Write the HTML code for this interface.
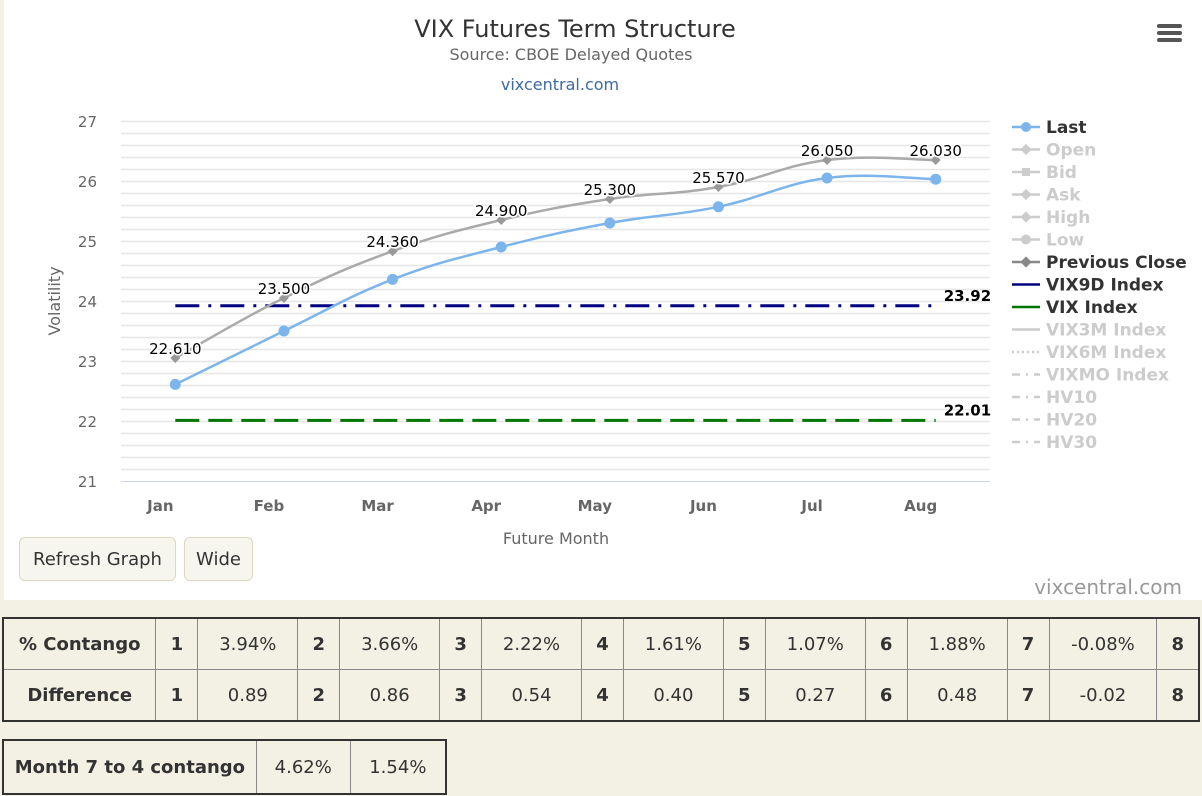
<!DOCTYPE html>
<html><head><meta charset="utf-8">
<style>
body{margin:0;width:1202px;height:796px;background:#f3f1e4;font-family:"DejaVu Sans","Liberation Sans",sans-serif;position:relative;overflow:hidden}
#chartbox{position:absolute;left:4px;top:0;width:1198px;height:600px;background:#fff}
svg text{font-family:"DejaVu Sans","Liberation Sans",sans-serif}
.btn{position:absolute;top:537px;height:44px;border:1px solid #ddd7bd;border-radius:6px;background:#f7f6ee;font-size:18px;color:#333;line-height:44px;text-align:center;box-sizing:border-box}
table{position:absolute;border-collapse:collapse;border:2px solid #333;font-size:18px;color:#333}
td{border:1px solid #888;text-align:center;padding:0;height:50px}
td.b{font-weight:bold}
</style></head><body>
<div id="chartbox">
<svg id="chart" width="1198" height="600"></svg>
</div>
<div class="btn" style="left:19px;width:157px">Refresh Graph</div>
<div class="btn" style="left:184px;width:69px">Wide</div>

<table style="left:2px;top:617px;width:1198px">
<colgroup><col style="width:153px"><col style="width:42px"><col style="width:100px"><col style="width:42px"><col style="width:100px"><col style="width:42px"><col style="width:100px"><col style="width:42px"><col style="width:100px"><col style="width:42px"><col style="width:100px"><col style="width:42px"><col style="width:100px"><col style="width:42px"><col style="width:108px"><col style="width:42px"></colgroup>
<tr><td class="b">% Contango</td><td class="b">1</td><td>3.94%</td><td class="b">2</td><td>3.66%</td><td class="b">3</td><td>2.22%</td><td class="b">4</td><td>1.61%</td><td class="b">5</td><td>1.07%</td><td class="b">6</td><td>1.88%</td><td class="b">7</td><td>-0.08%</td><td class="b">8</td></tr>
<tr><td class="b">Difference</td><td class="b">1</td><td>0.89</td><td class="b">2</td><td>0.86</td><td class="b">3</td><td>0.54</td><td class="b">4</td><td>0.40</td><td class="b">5</td><td>0.27</td><td class="b">6</td><td>0.48</td><td class="b">7</td><td>-0.02</td><td class="b">8</td></tr>
</table>
<table style="left:2px;top:739px;width:445px">
<colgroup><col style="width:254px"><col style="width:94px"><col style="width:96px"></colgroup>
<tr><td class="b" style="height:52px">Month 7 to 4 contango</td><td>4.62%</td><td>1.54%</td></tr>
</table>

<script>
const categories=["Jan","Feb","Mar","Apr","May","Jun","Jul","Aug"];
const lastValues=[22.61,23.5,24.36,24.9,25.3,25.57,26.05,26.03];
const prevClose=[23.05,24.05,24.83,25.35,25.70,25.90,26.35,26.35];
const vix9d=23.92;
const vix=22.01;
const yTicks=[21,22,23,24,25,26,27];
const legendItems=["Last","Open","Bid","Ask","High","Low","Previous Close","VIX9D Index","VIX Index","VIX3M Index","VIX6M Index","VIXMO Index","HV10","HV20","HV30"];
const legendActive=[true,false,false,false,false,false,true,true,true,false,false,false,false,false,false];

const NS="http://www.w3.org/2000/svg";
const svg=document.getElementById('chart');
const OX=4; // chartbox offset
const PL=121-OX,PR=990-OX,PT=121,PB=481,YMIN=21,YMAX=27;
const band=(PR-PL)/categories.length;
function x(i){return PL+band*(i+0.5);}
function y(v){return PB-(v-YMIN)/(YMAX-YMIN)*(PB-PT);}
function el(tag,attrs,parent){const e=document.createElementNS(NS,tag);for(const k in attrs)e.setAttribute(k,attrs[k]);(parent||svg).appendChild(e);return e;}
function txt(s,attrs,parent){const t=el('text',attrs,parent);t.textContent=s;return t;}
function smooth(pts){let d=`M${pts[0][0]},${pts[0][1]}`;for(let i=0;i<pts.length-1;i++){const p0=pts[i-1]||pts[i],p1=pts[i],p2=pts[i+1],p3=pts[i+2]||p2;const s=0.2;
d+=` C${p1[0]+(p2[0]-p0[0])*s},${p1[1]+(p2[1]-p0[1])*s} ${p2[0]-(p3[0]-p1[0])*s},${p2[1]-(p3[1]-p1[1])*s} ${p2[0]},${p2[1]}`;}return d;}

// titles
let t=txt("VIX Futures Term Structure",{x:571,y:37,'text-anchor':'middle','font-size':24,fill:'#333'});

t=txt("Source: CBOE Delayed Quotes",{x:567,y:60,'text-anchor':'middle','font-size':16,fill:'#666'});

t=txt("vixcentral.com",{x:556,y:90,'text-anchor':'middle','font-size':16,fill:'#3d6aa3'});

// menu
const menu=el('g',{});


[26,33,40].forEach(yy=>el('rect',{x:1153,y:yy-2,width:25,height:4,rx:2,fill:'#555'},menu));

// grid
const grid=el('g',{});


for(let v=YMIN;v<=YMAX+1e-9;v+=0.2){const yy=Math.round(y(v))+0.5;el('line',{x1:PL,x2:PR,y1:yy,y2:yy,stroke:Math.abs(v-YMIN)<1e-6?'#ccd6eb':'#e6e6e6','stroke-width':Math.abs(v-YMIN)<1e-6?1:1.5},grid);}
yTicks.forEach(v=>{const l=txt(String(v),{x:97-OX,y:y(v)+6,'text-anchor':'end','font-size':15,fill:'#666'});
});
categories.forEach((c,i)=>{const l=txt(c,{x:x(i)-15,y:511,'text-anchor':'middle','font-size':15,'font-weight':'bold',fill:'#666'});
});
t=txt("Volatility",{x:0,y:0,transform:`translate(${60-OX},301) rotate(-90)`,'text-anchor':'middle','font-size':16,fill:'#666'});

t=txt("Future Month",{x:556-OX,y:544,'text-anchor':'middle','font-size':16,fill:'#666'});


// index lines
let ln=el('line',{x1:x(0),x2:x(7),y1:y(vix9d),y2:y(vix9d),stroke:'#000080','stroke-width':3,'stroke-dasharray':'24,9,3,9'});

t=txt(vix9d.toFixed(2),{x:x(7)+8,y:y(vix9d)-5,'font-size':15,'font-weight':'bold',fill:'#000'});

ln=el('line',{x1:x(0),x2:x(7),y1:y(vix),y2:y(vix),stroke:'#007700','stroke-width':3,'stroke-dasharray':'24,9'});

t=txt(vix.toFixed(2),{x:x(7)+8,y:y(vix)-5,'font-size':15,'font-weight':'bold',fill:'#000'});


// previous close
const pp=prevClose.map((v,i)=>[x(i),y(v)]);
let p=el('path',{d:smooth(pp),fill:'none',stroke:'#aaa','stroke-width':2.5});

pp.forEach(q=>{const m=el('path',{d:`M${q[0]},${q[1]-5} L${q[0]+5},${q[1]} L${q[0]},${q[1]+5} L${q[0]-5},${q[1]} Z`,fill:'#999'});
});
// last
const lp=lastValues.map((v,i)=>[x(i),y(v)]);
p=el('path',{d:smooth(lp),fill:'none',stroke:'#7cb5ec','stroke-width':2.5});

lp.forEach(q=>{const c=el('circle',{cx:q[0],cy:q[1],r:5.5,fill:'#7cb5ec'});
});
lastValues.forEach((v,i)=>{const yy=Math.min(y(prevClose[i]),y(v))-9;
const l=txt(v.toFixed(3),{x:x(i),y:yy+5,'text-anchor':'middle','font-size':15,fill:'#000',stroke:'#fff','stroke-width':3,'paint-order':'stroke'});
});

// legend
legendItems.forEach((name,i)=>{const yy=127+i*22.5;const g=el('g',{});


let col=legendActive[i]?(i==0?'#7cb5ec':i==6?'#888':i==7?'#000080':i==8?'#007700':'#ccc'):'#ccc';
let dash=i==10?'2,3':(i>=11?'8,6,2,6':'none');
el('line',{x1:1012-OX,x2:1040-OX,y1:yy,y2:yy,stroke:col,'stroke-width':2.5,'stroke-dasharray':dash},g);
if(i<=6){if(i==0||i==5)el('circle',{cx:1026-OX,cy:yy,r:5,fill:col},g);
else el('rect',{x:1022-OX,y:yy-4,width:8,height:8,fill:col,transform:i==2?'':`rotate(45 ${1026-OX} ${yy})`},g);}
txt(name,{x:1046-OX,y:yy+6,'font-size':17,'font-weight':'bold',fill:legendActive[i]?'#333':'#ccc'},g);});

t=txt("vixcentral.com",{x:1182-OX,y:594,'text-anchor':'end','font-size':20,fill:'#999'});

</script>
</body></html>
